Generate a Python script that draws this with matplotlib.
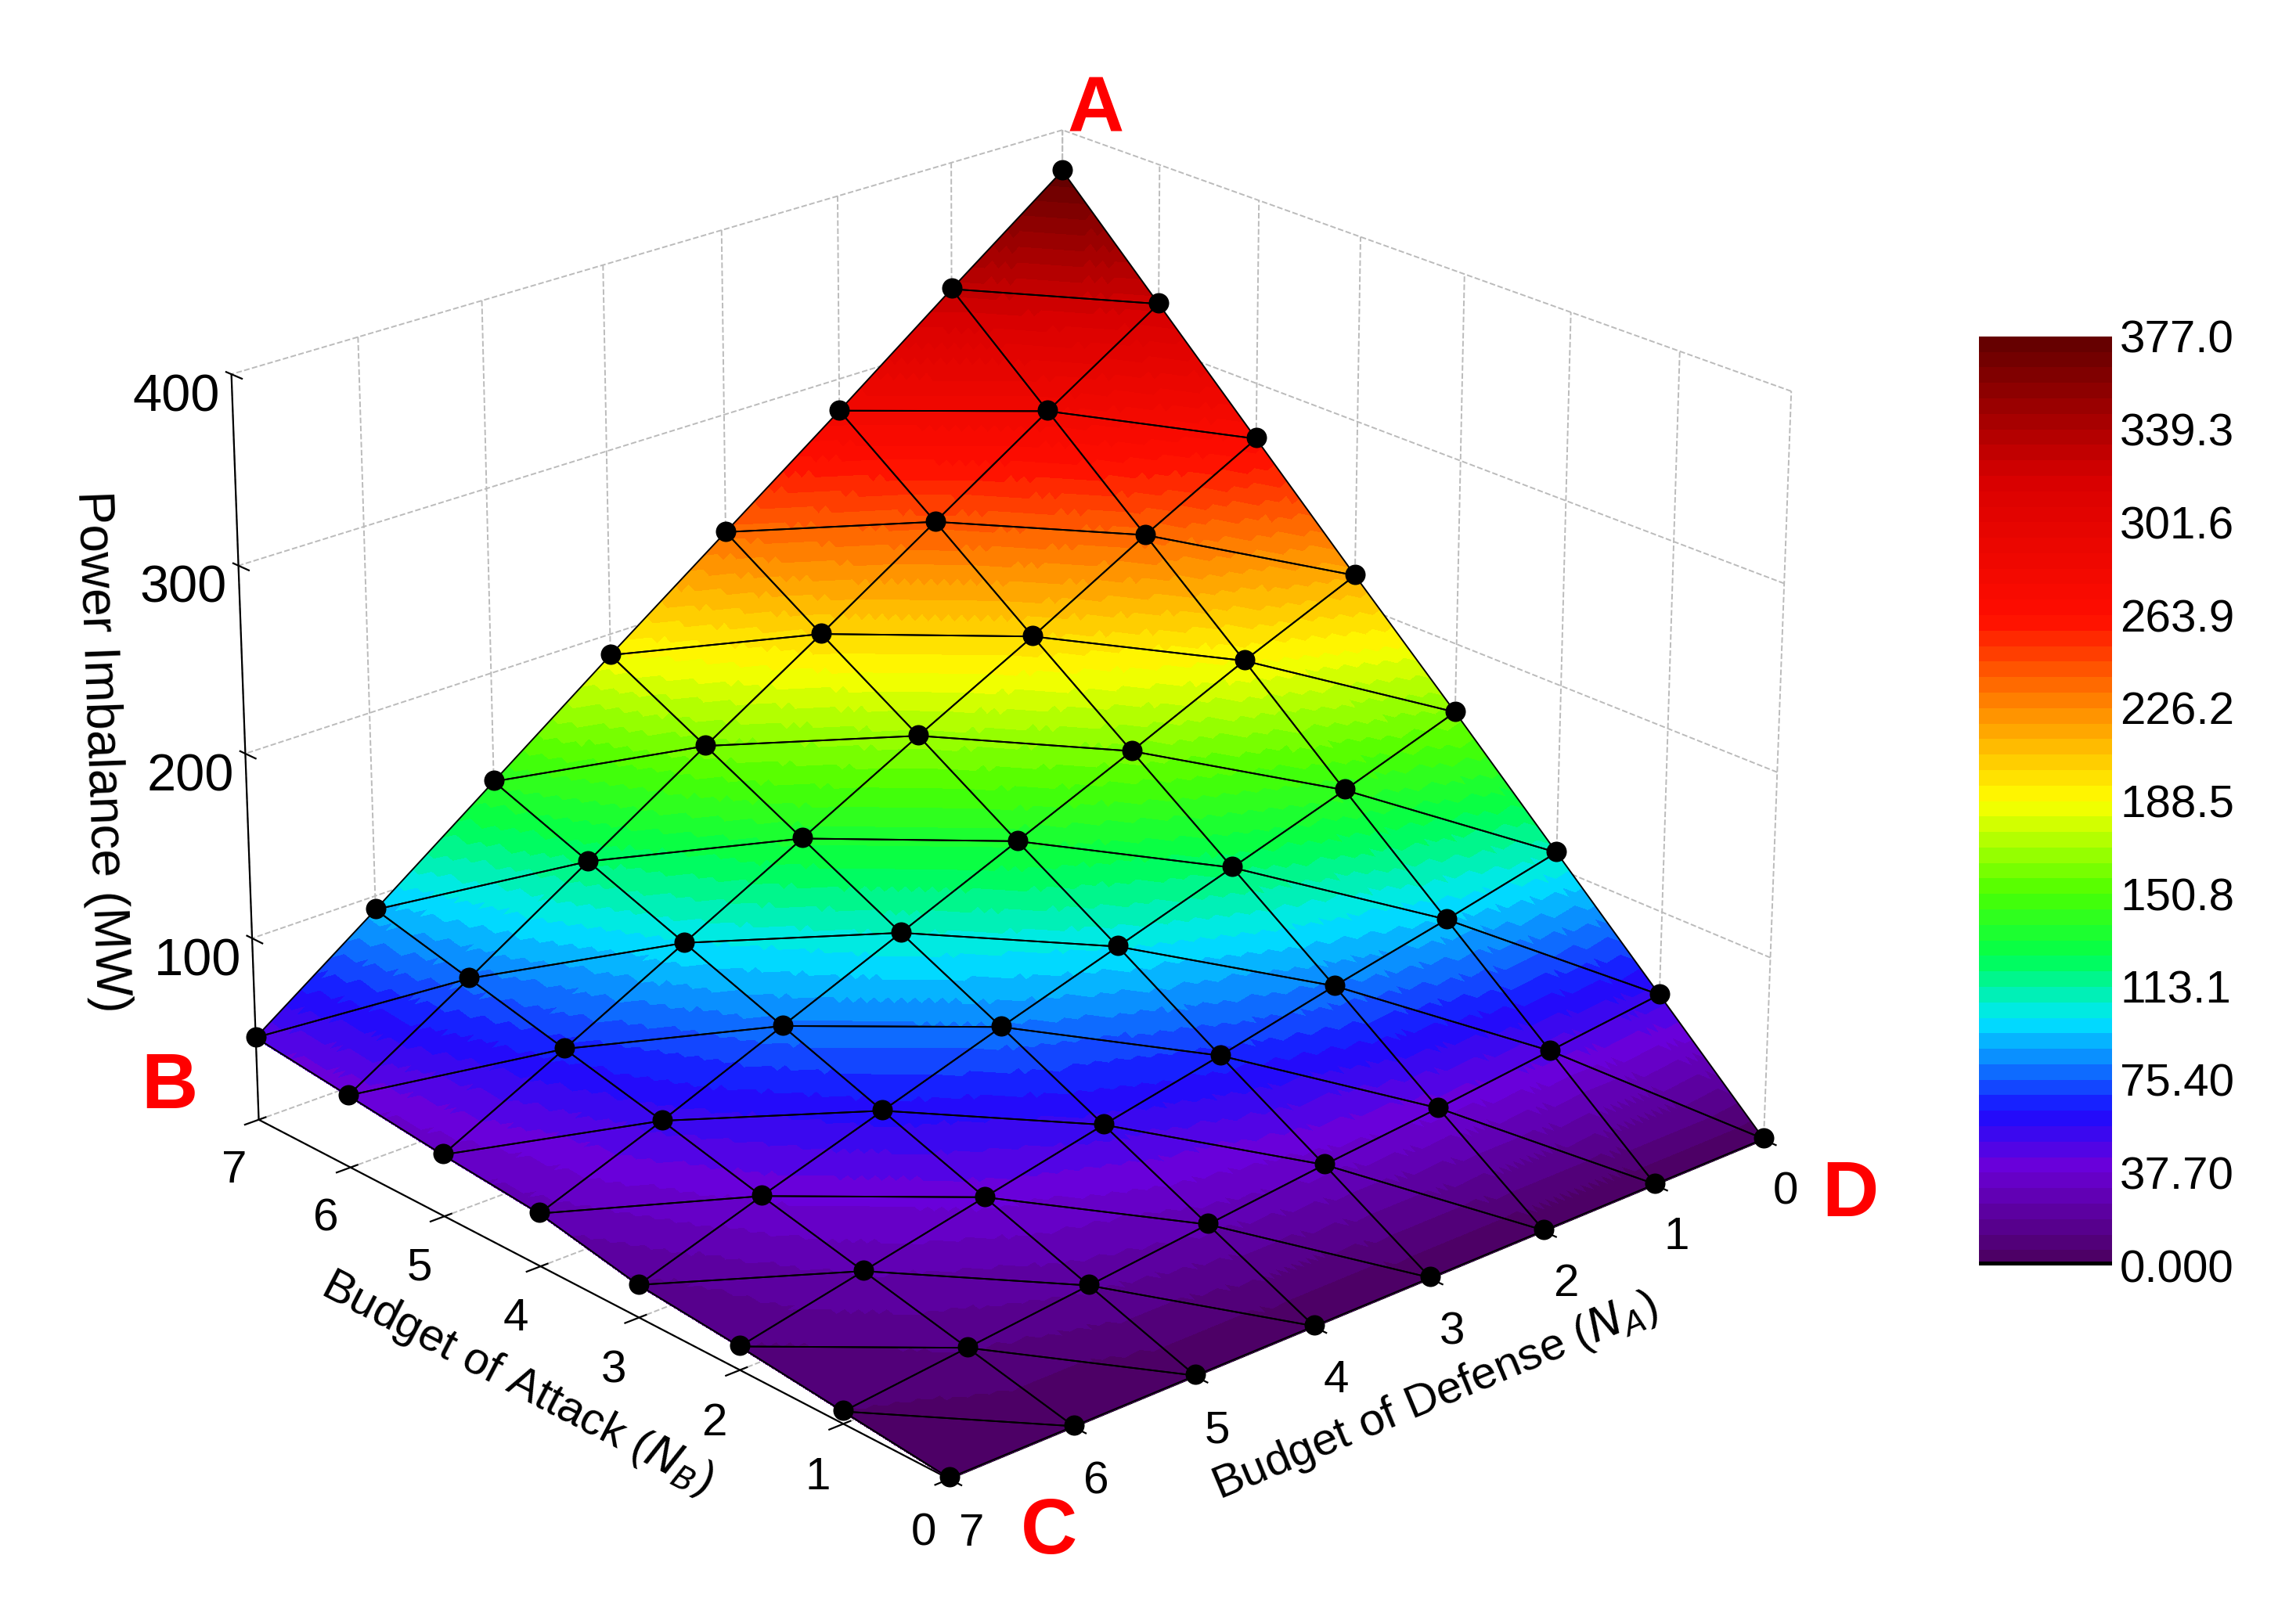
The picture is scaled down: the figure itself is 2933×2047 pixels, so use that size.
import numpy as np
import matplotlib
matplotlib.use('Agg')
import matplotlib.pyplot as plt
import matplotlib.tri as mtri
from matplotlib.colors import LinearSegmentedColormap, Normalize
from matplotlib.cm import ScalarMappable

plt.rcParams['font.family'] = ['Liberation Sans', 'DejaVu Sans']

# --- datos: filas = presupuesto de ataque (0..7), columnas = defensa (0..7) ---
attack = np.arange(8)
defense = np.arange(8)
imbalance = np.array([
    [0, 0, 0, 0, 0, 0, 0, 0],
    [54, 47, 40, 34, 27, 20, 13, 6],
    [108, 94, 81, 67, 54, 40, 26, 12],
    [162, 141, 121, 101, 81, 60, 39, 17],
    [215, 189, 161, 134, 107, 80, 53, 28],
    [269, 236, 201, 168, 134, 100, 66, 33],
    [323, 283, 242, 201, 161, 120, 79, 39],
    [377, 330, 282, 235, 188, 140, 92, 45],
])
cbar_ticks = [0.0, 37.7, 75.4, 113.1, 150.8, 188.5, 226.2, 263.9, 301.6, 339.3, 377.0]
cbar_labels = ['0.000', '37.70', '75.40', '113.1', '150.8', '188.5', '226.2',
               '263.9', '301.6', '339.3', '377.0']

cmap = LinearSegmentedColormap.from_list('origin_rainbow', [
    (0.00, (0.30, 0.00, 0.40)),
    (0.10, (0.42, 0.00, 0.85)),
    (0.16, (0.10, 0.05, 1.00)),
    (0.26, (0.00, 0.90, 1.00)),
    (0.33, (0.00, 1.00, 0.30)),
    (0.40, (0.30, 1.00, 0.00)),
    (0.50, (1.00, 1.00, 0.00)),
    (0.60, (1.00, 0.55, 0.00)),
    (0.70, (1.00, 0.05, 0.00)),
    (0.85, (0.85, 0.00, 0.00)),
    (1.00, (0.40, 0.00, 0.00)),
], N=60)
norm = Normalize(0, 377)

A, D = np.meshgrid(attack, defense, indexing='ij')
x = A.ravel().astype(float)
y = D.ravel().astype(float)
z = imbalance.ravel().astype(float)

# triangulacion regular con diagonal fija
tris = []
for i in range(7):
    for j in range(7):
        p = i * 8 + j
        tris.append([p, p + 1, p + 9])
        tris.append([p, p + 9, p + 8])
tri = mtri.Triangulation(x, y, np.array(tris))
refiner = mtri.UniformTriRefiner(tri)
fine_tri, fine_z = refiner.refine_field(z, triinterpolator=mtri.LinearTriInterpolator(tri, z), subdiv=4)

fig = plt.figure(figsize=(14.665, 10.235), dpi=200)
ax = fig.add_axes([-0.02, 0.0, 0.90, 1.02], projection='3d')
ax.plot_trisurf(fine_tri.x, fine_tri.y, fine_z, triangles=fine_tri.triangles,
                cmap=cmap, norm=norm, linewidth=0, antialiased=False, shade=False)

# malla negra y puntos
for t in tris:
    idx = t + [t[0]]
    ax.plot(x[idx], y[idx], z[idx] + 0.5, color='black', lw=0.7, zorder=5)
ax.scatter(x, y, z + 1, color='black', s=70, depthshade=False, zorder=6)

ax.set_xlim(7, 0)
ax.set_ylim(7, 0)
ax.set_zlim(0, 400)
ax.set_xticks(attack)
ax.set_yticks(defense)
ax.set_zticks([100, 200, 300, 400])
ax.tick_params(labelsize=21)
ax.tick_params(axis='z', labelsize=24, pad=6)
ax.set_xlabel('Budget of Attack ($N_B$)', fontsize=21, labelpad=12)
ax.set_ylabel('Budget of Defense ($N_A$)', fontsize=21, labelpad=12)
ax.set_zlabel('Power Imbalance (MW)', fontsize=23, labelpad=16)
ax.zaxis._axinfo['juggled'] = (1, 2, 0)
ax.view_init(elev=23, azim=-42)
ax.set_box_aspect((1.15, 1.2, 0.88), zoom=1.03)
for axis in (ax.xaxis, ax.yaxis, ax.zaxis):
    axis.set_pane_color((1, 1, 1, 0))
    axis.pane.set_edgecolor('black')
    axis._axinfo['grid'].update(color='#bbbbbb', linestyle='--', linewidth=0.7)

# letras de las esquinas
lbl = dict(color='red', fontsize=36, fontweight='bold', ha='center', va='center')
ax.text(7, -0.3, 377 + 28, 'A', **lbl)
ax.text(7, 7.7, 35, 'B', **lbl)
fig.text(0.457, 0.043, 'C', **lbl)
ax.text(-0.7, -0.1, -15, 'D', **lbl)

cax = fig.add_axes([0.862, 0.21, 0.058, 0.58])
cb = fig.colorbar(ScalarMappable(norm=norm, cmap=cmap), cax=cax, ticks=cbar_ticks)
cb.ax.set_yticklabels(cbar_labels)
cb.ax.tick_params(labelsize=21, length=0)
cb.outline.set_visible(False)
cax.axhline(0, color='black', lw=4)

fig.savefig('out.png', dpi=200)
